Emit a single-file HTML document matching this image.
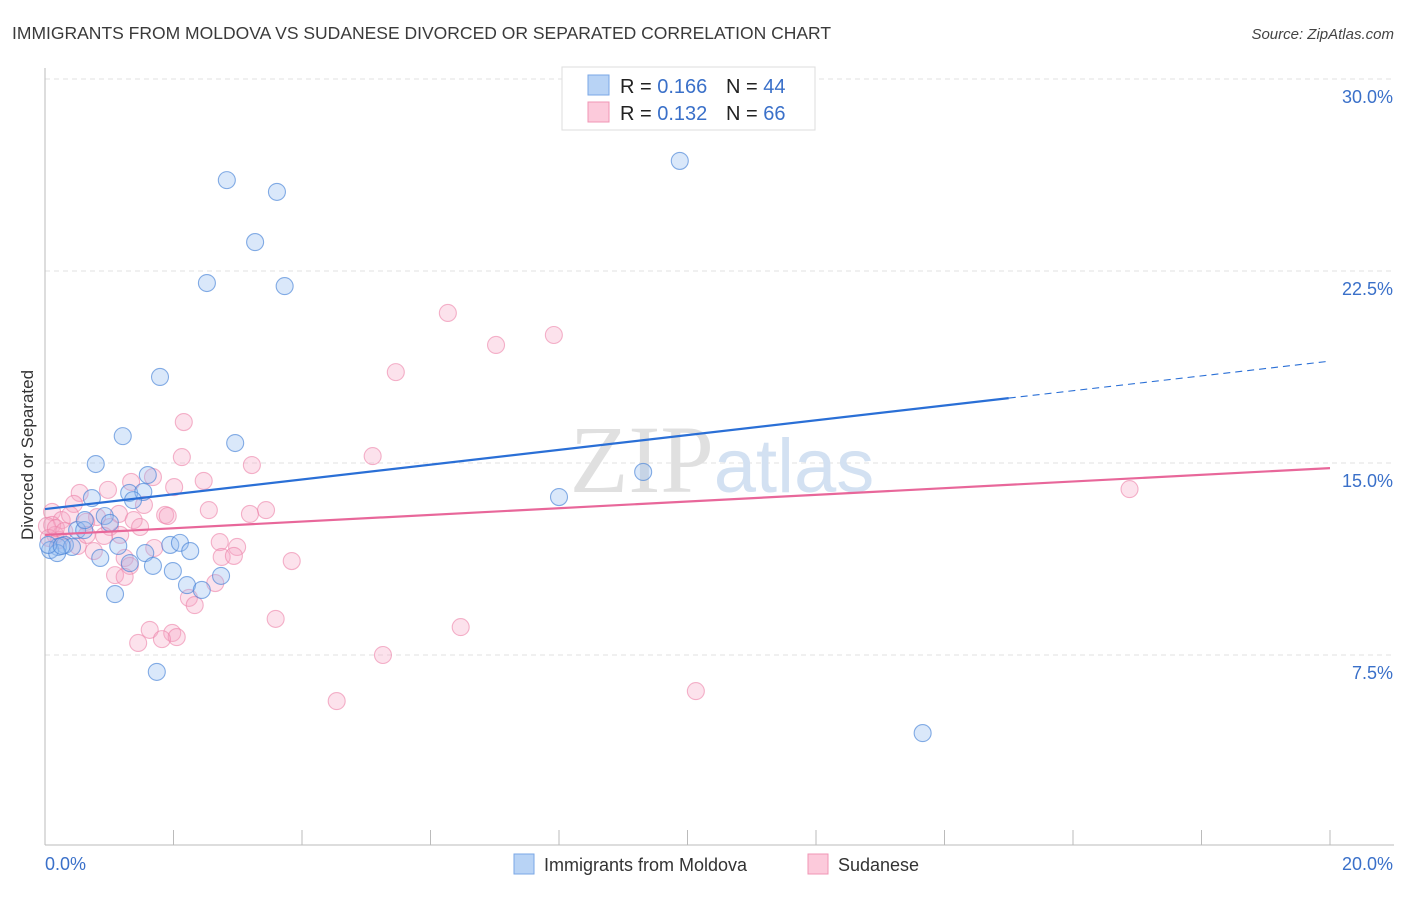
<!DOCTYPE html>
<html><head><meta charset="utf-8"><style>
body{margin:0;background:#fff;font-family:"Liberation Sans",sans-serif;}
svg text{font-family:"Liberation Sans",sans-serif;}
</style></head><body>
<svg id="chart" width="1406" height="892" viewBox="0 0 1406 892">
<text x="12" y="39" font-size="17.5" fill="#3a3a3a">IMMIGRANTS FROM MOLDOVA VS SUDANESE DIVORCED OR SEPARATED CORRELATION CHART</text>
<text x="1394" y="39" font-size="15" fill="#444" font-style="italic" text-anchor="end">Source: ZipAtlas.com</text>
<text x="33" y="455" font-size="17" fill="#333" text-anchor="middle" transform="rotate(-90 33 455)">Divorced or Separated</text>
<g id="grid"></g>
<g id="axes"></g>
<text x="722" y="492" font-size="96" fill="#e3e3e3" text-anchor="middle" font-family="Liberation Serif"><tspan fill="#e0e0e0" font-family="Liberation Serif">ZIP</tspan><tspan fill="#d3e1f2" font-family="Liberation Sans" font-size="76">atlas</tspan></text>
<g id="points"></g>
<g id="lines"></g>
<g>
<rect x="562" y="67" width="253" height="63" fill="#fff" stroke="#ddd"/>
<rect x="588" y="75" width="21" height="20" fill="#b8d3f5" stroke="#7aa7e6"/>
<rect x="588" y="102" width="21" height="20" fill="#fccadb" stroke="#f096b4"/>
<text x="620" y="93" font-size="20" fill="#222">R = <tspan fill="#3a70c9">0.166</tspan></text>
<text x="726" y="93" font-size="20" fill="#222">N = <tspan fill="#3a70c9">44</tspan></text>
<text x="620" y="120" font-size="20" fill="#222">R = <tspan fill="#3a70c9">0.132</tspan></text>
<text x="726" y="120" font-size="20" fill="#222">N = <tspan fill="#3a70c9">66</tspan></text>
</g>
<g>
<rect x="514" y="854" width="20" height="20" fill="#b8d3f5" stroke="#7aa7e6"/>
<text x="544" y="871" font-size="18" fill="#333">Immigrants from Moldova</text>
<rect x="808" y="854" width="20" height="20" fill="#fccadb" stroke="#f096b4"/>
<text x="838" y="871" font-size="18" fill="#333">Sudanese</text>
</g>
</svg>
<script>
const blueX=[2.83,3.61,3.27,2.52,3.73,1.79,1.21,2.96,0.79,1.60,9.88,9.31,8.00,1.31,1.53,0.73,1.37,0.93,1.01,0.50,0.61,0.31,0.20,0.42,0.08,0.19,1.14,1.95,2.10,2.26,1.56,0.86,1.32,1.68,1.99,2.74,2.21,2.44,1.09,1.74,13.66,0.05,0.26,0.62];
const blueY=[26.05,25.59,23.63,22.03,21.91,18.36,16.05,15.78,14.96,14.53,26.80,14.65,13.67,13.83,13.87,13.63,13.55,12.93,12.66,12.38,12.38,11.80,11.72,11.72,11.60,11.48,11.76,11.80,11.88,11.56,11.48,11.29,11.09,10.98,10.78,10.59,10.23,10.04,9.88,6.84,4.45,11.80,11.76,12.77];
const pinkX=[6.27,7.92,7.02,5.46,2.16,2.13,5.10,3.22,1.68,1.34,2.47,2.01,0.54,1.54,0.98,0.45,0.11,0.26,0.39,0.81,1.15,1.38,1.87,1.91,2.55,3.44,3.19,0.64,1.01,0.11,0.16,0.22,0.92,1.48,1.70,2.72,2.99,0.76,1.24,2.75,2.94,3.84,1.32,1.09,1.24,2.24,2.33,2.65,3.59,6.47,1.63,1.98,2.05,1.45,1.82,5.26,10.13,4.54,16.88,0.03,0.06,0.17,0.30,0.51,0.65,1.17];
const pinkY=[20.86,20.00,19.61,18.55,16.60,15.23,15.27,14.92,14.45,14.26,14.30,14.06,13.83,13.36,13.95,13.40,13.09,12.77,12.97,12.89,13.01,12.77,12.97,12.93,13.16,13.16,13.01,12.70,12.50,12.58,12.19,11.99,12.15,12.50,11.68,11.91,11.72,11.56,11.29,11.33,11.37,11.17,10.98,10.62,10.55,9.73,9.45,10.31,8.91,8.59,8.48,8.36,8.20,7.97,8.12,7.50,6.09,5.70,13.98,12.54,12.07,12.46,12.34,11.76,12.19,12.19];
const yTicks=[7.5,15,22.5,30];
const yTickLabels=["7.5%","15.0%","22.5%","30.0%"];
const xTicks=[0,2,4,6,8,10,12,14,16,18,20];
const xEndLabels=["0.0%","20.0%"];
const blueTrend=[13.2,18.98];
const blueSolidEnd=15.0;
const pinkTrend=[12.19,14.8];

const NS="http://www.w3.org/2000/svg";
const X0=45,X1=1330,Y0=847,PXY=192/7.5;
const sx=v=>X0+(v/20)*(X1-X0);
const sy=v=>Y0-v*PXY;
function mk(tag,attrs,parent){const e=document.createElementNS(NS,tag);for(const k in attrs)e.setAttribute(k,attrs[k]);parent.appendChild(e);return e;}
const grid=document.getElementById('grid'),axes=document.getElementById('axes');
yTicks.forEach((t,i)=>{
  const l=mk('line',{x1:X0,x2:1394,y1:sy(t),y2:sy(t),stroke:'#e2e2e2','stroke-dasharray':'5,4'},grid);
  
  
  const tx=mk('text',{x:1393,y:sy(t)+24,'font-size':18,fill:'#3a70c9','text-anchor':'end'},axes);
  tx.textContent=yTickLabels[i];
  
  
});
const yl=mk('line',{x1:X0,x2:X0,y1:68,y2:845,stroke:'#bbb'},axes);


const xl=mk('line',{x1:X0,x2:1394,y1:845,y2:845,stroke:'#bbb'},axes);


xTicks.forEach(t=>{
  const l=mk('line',{x1:sx(t),x2:sx(t),y1:830,y2:845,stroke:'#bbb'},axes);
  
  
});
const xa=mk('text',{x:45,y:870,'font-size':18,fill:'#3a70c9'},axes);
xa.textContent=xEndLabels[0];


const xb=mk('text',{x:1393,y:870,'font-size':18,fill:'#3a70c9','text-anchor':'end'},axes);
xb.textContent=xEndLabels[1];



const pts=document.getElementById('points');
pinkX.forEach((x,i)=>{
  const c=mk('circle',{cx:sx(x),cy:sy(pinkY[i]),r:8.5,fill:'rgba(247,165,195,0.32)',stroke:'rgba(236,130,168,0.6)','stroke-width':1.1},pts);
  
  
});
blueX.forEach((x,i)=>{
  const c=mk('circle',{cx:sx(x),cy:sy(blueY[i]),r:8.5,fill:'rgba(150,190,240,0.35)',stroke:'rgba(70,130,215,0.65)','stroke-width':1.1},pts);
  
  
});
const lines=document.getElementById('lines');
const by=x=>blueTrend[0]+(blueTrend[1]-blueTrend[0])*x/20;
const b1=mk('line',{x1:sx(0),y1:sy(by(0)),x2:sx(blueSolidEnd),y2:sy(by(blueSolidEnd)),stroke:'#2a6fd6','stroke-width':2.2},lines);


const b2=mk('line',{x1:sx(blueSolidEnd),y1:sy(by(blueSolidEnd)),x2:sx(20),y2:sy(by(20)),stroke:'#2a6fd6','stroke-width':1.1,'stroke-dasharray':'7,5'},lines);


const p1=mk('line',{x1:sx(0),y1:sy(pinkTrend[0]),x2:sx(20),y2:sy(pinkTrend[1]),stroke:'#e8679a','stroke-width':2.2},lines);


</script>
</body></html>
